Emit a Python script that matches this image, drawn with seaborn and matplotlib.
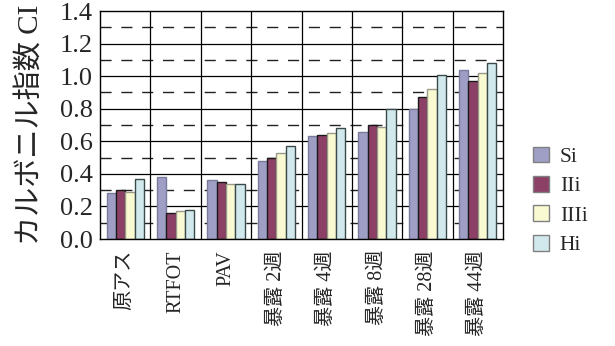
import pandas as pd
import matplotlib
matplotlib.use("Agg")
import matplotlib.pyplot as plt
import seaborn as sns

# categories and series
categories = ["原アス", "RTFOT", "PAV", "暴露 2週", "暴露 4週", "暴露 8週", "暴露 28週", "暴露 44週"]
series = ["Si", "IIi", "IIIi", "Hi"]
si = [0.28, 0.38, 0.36, 0.48, 0.63, 0.66, 0.80, 1.04]
iii = [0.30, 0.16, 0.35, 0.50, 0.64, 0.70, 0.87, 0.97]
iiii = [0.29, 0.17, 0.34, 0.53, 0.65, 0.69, 0.92, 1.02]
hi = [0.37, 0.18, 0.34, 0.57, 0.68, 0.80, 1.01, 1.08]

colors = ["#9999CC", "#993366", "#FFFFCC", "#CCECF0"]
edges = ["#7A7A9A", "#1A1A1A", "#9A9A8A", "#3A4A4A"]

rows = []
for name, vals in zip(series, [si, iii, iiii, hi]):
    for c, v in zip(categories, vals):
        rows.append({"cat": c, "series": name, "CI": v})
df = pd.DataFrame(rows)

sns.set_style("white")
plt.rcParams['font.family'] = ['Liberation Serif', 'Noto Sans CJK JP']

fig = plt.figure(figsize=(6.15, 3.46), dpi=100)
ax = fig.add_axes([100 / 615, 1 - 239 / 346, 403 / 615, 228 / 346])

# grid first so bars sit on top
for y in [0.2, 0.4, 0.6, 0.8, 1.0, 1.2]:
    ax.axhline(y, color="black", lw=0.9, zorder=0)
for y in [0.1, 0.3, 0.5, 0.7, 0.9, 1.1, 1.3]:
    ax.axhline(y, color="#222222", lw=1.0, dashes=(8, 7), zorder=0)
for x in range(len(categories) - 1):
    ax.axvline(x + 0.5, color="black", lw=0.9, zorder=0)

sns.barplot(data=df, x="cat", y="CI", hue="series", palette=colors,
            width=0.74, gap=0, linewidth=1.0, edgecolor="gray", ax=ax, zorder=2)

for i, cont in enumerate(ax.containers):
    for p in cont:
        p.set_edgecolor(edges[i])

ax.set_ylim(0, 1.4)
ax.set_xlim(-0.5, len(categories) - 0.5)
ax.set_yticks([0.0, 0.2, 0.4, 0.6, 0.8, 1.0, 1.2, 1.4])
ax.set_yticklabels(["0.0", "0.2", "0.4", "0.6", "0.8", "1.0", "1.2", "1.4"], fontsize=19)
ax.tick_params(axis="y", length=0, pad=5)
ax.tick_params(axis="x", length=0, pad=8)
ax.set_xticks(range(len(categories)))
ax.set_xticklabels(categories, rotation=90, fontsize=14.5, va="top", ha="center")
ax.set_xlabel("")
ax.set_ylabel("カルボニル指数 CI", fontsize=21, labelpad=12)

for s in ax.spines.values():
    s.set_color("black")
    s.set_linewidth(1.0)

handles, labels = ax.get_legend_handles_labels()
ax.legend(handles, labels, loc="center left", bbox_to_anchor=(1.074, 0.167),
          frameon=False, fontsize=15.5, handlelength=0.75, handleheight=0.75,
          handletextpad=0.5, labelspacing=0.42, borderaxespad=0, borderpad=0)

fig.savefig("out.png", dpi=100)
